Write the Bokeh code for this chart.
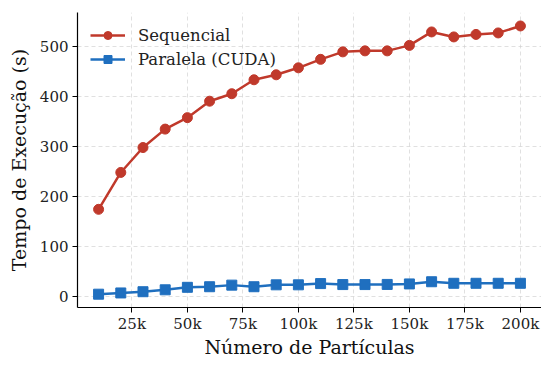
from bokeh.plotting import figure
from bokeh.models import Range1d, FixedTicker, Legend, LegendItem
from bokeh.embed import file_html
from bokeh.resources import INLINE

particles = [10000, 20000, 30000, 40000, 50000, 60000, 70000, 80000, 90000, 100000,
             110000, 120000, 130000, 140000, 150000, 160000, 170000, 180000, 190000, 200000]
sequencial = [174, 248, 298, 335, 358, 391, 406, 434, 444, 458,
              475, 490, 492, 492, 503, 530, 520, 525, 528, 542]
cuda = [3.7, 6.2, 8.7, 12.5, 17.5, 18.7, 21.9, 18.7, 22.5, 22.5,
        25, 23, 23, 23.3, 24.3, 28.7, 25.6, 25.6, 25.6, 25.6]

x_ticks = [25000, 50000, 75000, 100000, 125000, 150000, 175000, 200000]
x_tick_labels = ["25k", "50k", "75k", "100k", "125k", "150k", "175k", "200k"]
y_ticks = [0, 100, 200, 300, 400, 500]

RED = "#c0392b"
BLUE = "#1f6fbf"
FONT = "DejaVu Serif"

p = figure(width=541, height=360, output_backend="svg", toolbar_location=None,
           x_range=Range1d(500, 209500), y_range=Range1d(-23, 569),
           min_border_left=77, min_border_right=0, min_border_top=12, min_border_bottom=46)
p.outline_line_color = None
p.background_fill_color = "white"

r1 = p.line(particles, sequencial, line_color=RED, line_width=2.5)
m1 = p.scatter(particles, sequencial, marker="circle", size=10, fill_color=RED, line_color=RED)
r2 = p.line(particles, cuda, line_color=BLUE, line_width=2.5)
m2 = p.scatter(particles, cuda, marker="square", size=10, fill_color=BLUE, line_color=BLUE)

p.xaxis.ticker = FixedTicker(ticks=x_ticks)
p.xaxis.major_label_overrides = {t: l for t, l in zip(x_ticks, x_tick_labels)}
p.yaxis.ticker = FixedTicker(ticks=y_ticks)

for ax in (p.xaxis, p.yaxis):
    ax.minor_tick_line_color = None
    ax.major_tick_out = 5
    ax.major_tick_in = 0
    ax.axis_line_color = "black"
    ax.axis_line_width = 1.2
    ax.major_tick_line_color = "black"
    ax.major_label_text_font = FONT
    ax.major_label_text_font_size = "15px"
    ax.major_label_text_color = "#222222"
    ax.major_label_text_line_height = 1.0
    ax.axis_label_text_font = FONT
    ax.axis_label_text_font_size = "19px"
    ax.axis_label_text_font_style = "normal"
    ax.axis_label_text_color = "#111111"
    ax.axis_label_text_line_height = 1.0

p.xaxis.axis_label = "Número de Partículas"
p.yaxis.axis_label = "Tempo de Execução (s)"
p.xaxis.axis_label_standoff = 0
p.yaxis.axis_label_standoff = 7
p.xaxis.major_label_standoff = 2
p.yaxis.major_label_standoff = 4

p.xgrid.ticker = FixedTicker(ticks=x_ticks)
p.ygrid.ticker = FixedTicker(ticks=y_ticks)
for g in (p.xgrid, p.ygrid):
    g.grid_line_color = "#cccccc"
    g.grid_line_alpha = 0.6
    g.grid_line_dash = "4 3"
    g.grid_line_width = 1

legend = Legend(items=[LegendItem(label="Sequencial", renderers=[r1, m1]),
                       LegendItem(label="Paralela (CUDA)", renderers=[r2, m2])],
                location="top_left")
legend.label_text_font = FONT
legend.label_text_font_size = "16.5px"
legend.label_text_color = "#222222"
legend.background_fill_alpha = 0
legend.border_line_color = None
legend.glyph_width = 35
legend.glyph_height = 20
legend.spacing = 4
legend.padding = 0
legend.margin = 13
legend.label_standoff = 13
p.add_layout(legend)

open("out.html", "w").write(file_html(p, INLINE))
